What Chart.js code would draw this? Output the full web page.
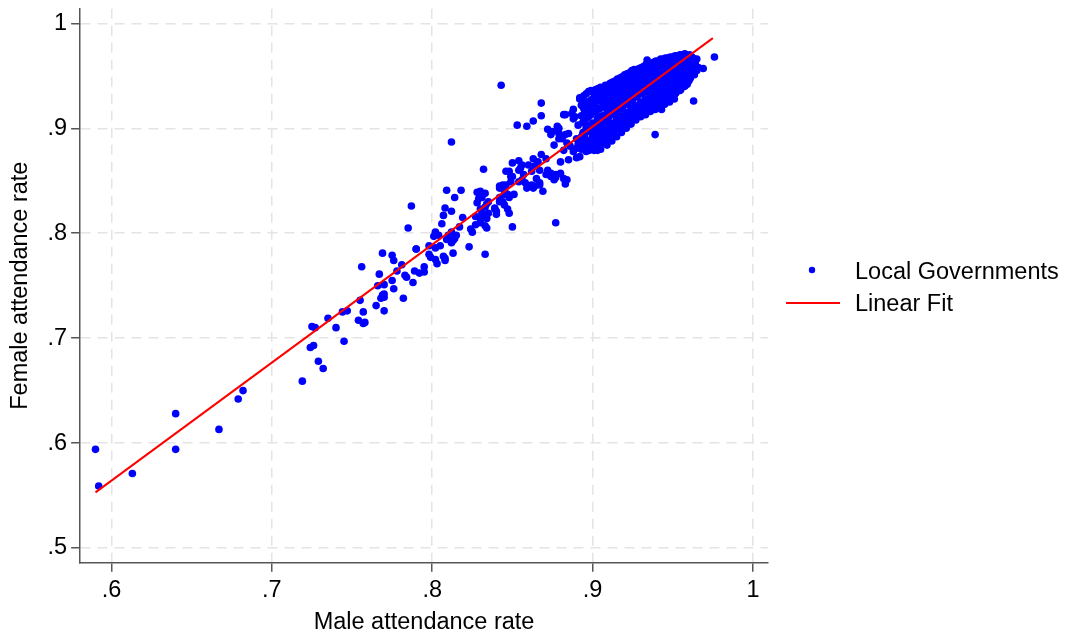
<!DOCTYPE html>
<html>
<head>
<meta charset="utf-8">
<script src="https://cdn.jsdelivr.net/npm/chart.js@4.4.1/dist/chart.umd.min.js"></script>
<style>
html,body{margin:0;padding:0;background:#fff}
#wrap{position:relative;width:1067px;height:634px}
</style>
</head>
<body>
<div id="wrap"><canvas id="chart" width="1067" height="634"></canvas></div>
<script>
const xTicks = [0.6, 0.7, 0.8, 0.9, 1]
const yTicks = [0.5, 0.6, 0.7, 0.8, 0.9, 1]
const seriesLabels = ['Local Governments', 'Linear Fit']

// fitted line at both ends
const fitMale = [0.590, 0.975]
const fitFemale = [0.553, 0.986]

// [male rate, female rate] per local government
const govRates = [
    [0.590,0.594],[0.592,0.559],[0.613,0.571],[0.640,0.628],[0.640,0.594],[0.667,0.613],[0.679,0.642],[0.682,0.650],
    [0.719,0.659],[0.729,0.678],[0.732,0.671],[0.724,0.691],[0.726,0.693],[0.745,0.697],[0.725,0.711],[0.727,0.710],
    [0.735,0.719],[0.740,0.710],[0.744,0.725],[0.747,0.726],[0.754,0.717],[0.757,0.714],[0.758,0.715],[0.757,0.725],
    [0.755,0.736],[0.756,0.768],[0.765,0.731],[0.770,0.726],[0.768,0.738],[0.770,0.739],[0.770,0.742],[0.769,0.741],
    [0.766,0.750],[0.770,0.751],[0.776,0.747],[0.782,0.738],[0.775,0.755],[0.767,0.761],[0.769,0.781],[0.775,0.779],
    [0.776,0.774],[0.778,0.764],[0.781,0.770],[0.783,0.760],[0.784,0.758],[0.788,0.753],[0.789,0.764],[0.792,0.762],
    [0.795,0.768],[0.790,0.785],[0.798,0.788],[0.798,0.780],[0.799,0.777],[0.802,0.775],[0.803,0.771],[0.807,0.778],
    [0.808,0.776],[0.813,0.781],[0.805,0.788],[0.812,0.791],
    [0.787,0.826],[0.785,0.805],[0.790,0.785],[0.795,0.763],[0.802,0.786],[0.808,0.774],[0.802,0.801],[0.801,0.797],
    [0.804,0.798],[0.806,0.809],[0.807,0.817],[0.808,0.824],[0.812,0.821],[0.809,0.841],[0.814,0.834],[0.818,0.841],
    [0.812,0.801],[0.810,0.798],[0.809,0.794],[0.813,0.793],[0.815,0.798],[0.814,0.795],[0.817,0.806],[0.819,0.815],
    [0.823,0.787],[0.824,0.804],[0.825,0.801],[0.827,0.808],[0.827,0.816],[0.828,0.839],[0.830,0.840],[0.829,0.833],
    [0.828,0.829],[0.832,0.861],[0.833,0.838],[0.830,0.823],[0.833,0.825],[0.834,0.828],[0.835,0.830],[0.831,0.819],
    [0.830,0.813],[0.834,0.814],[0.830,0.810],[0.833,0.807],[0.833,0.780],[0.840,0.821],[0.840,0.818],[0.839,0.823],
    [0.842,0.834],[0.844,0.830],[0.845,0.827],[0.842,0.843],[0.842,0.845],[0.844,0.846],[0.845,0.841],[0.846,0.846],
    [0.847,0.837],[0.848,0.834],[0.851,0.837],[0.847,0.823],[0.848,0.819],[0.850,0.806],[0.848,0.859],[0.850,0.854],
    [0.849,0.849],[0.850,0.867],[0.854,0.860],[0.856,0.865],[0.857,0.856],[0.856,0.851],[0.858,0.848],[0.862,0.846],
    [0.859,0.843],[0.864,0.845],[0.865,0.852],[0.867,0.848],[0.869,0.840],[0.871,0.856],[0.874,0.854],[0.876,0.851],
    [0.877,0.810],[0.862,0.859],[0.864,0.864],[0.867,0.860],
    [0.843,0.941],[0.868,0.924],[0.868,0.912],[0.863,0.907],[0.853,0.903],[0.859,0.902],[0.872,0.899],[0.874,0.894],
    [0.878,0.902],[0.879,0.895],[0.883,0.913],[0.887,0.914],[0.888,0.918],[0.892,0.928],[0.896,0.925],[0.893,0.922],
    [0.899,0.927],[0.881,0.890],[0.884,0.886],[0.886,0.883],[0.882,0.879],[0.888,0.878],[0.890,0.872],[0.891,0.885],
    [0.894,0.883],[0.898,0.879],[0.900,0.884],[0.903,0.879],[0.890,0.890],[0.894,0.894],[0.896,0.889],[0.900,0.892],
    [0.903,0.890],[0.906,0.897],
    [0.854,0.869],[0.855,0.862],[0.860,0.865],[0.863,0.871],[0.866,0.868],[0.868,0.875],[0.871,0.871],[0.872,0.860],
    [0.877,0.853],[0.880,0.857],[0.884,0.851],[0.867,0.846],[0.863,0.843],[0.854,0.849],[0.849,0.854],[0.846,0.859],
    [0.845,0.837],[0.842,0.830],[0.839,0.824],[0.835,0.819],[0.833,0.815],[0.834,0.805],[0.831,0.834],
    [0.882,0.913],[0.888,0.909],[0.896,0.903],[0.899,0.897],[0.894,0.887],[0.898,0.881],[0.903,0.887],[0.890,0.881],
    [0.892,0.873],[0.885,0.870],[0.879,0.890],[0.875,0.897],[0.876,0.884],[0.883,0.894],[0.889,0.911],[0.879,0.900],
    [0.885,0.895],[0.880,0.868],[0.883,0.847],[0.877,0.856],[0.882,0.852],[0.874,0.857],
    [0.976,0.968],[0.969,0.957],[0.963,0.926],[0.939,0.894],[0.934,0.965],[0.943,0.918],[0.947,0.932],[0.812,0.887],
    [0.912,0.942],[0.908,0.935],[0.904,0.931],[0.895,0.925],[0.897,0.914],[0.894,0.906],[0.896,0.900],[0.893,0.892],
    [0.892,0.929],[0.894,0.921],[0.893,0.912],[0.891,0.903],[0.894,0.896],[0.892,0.887],[0.893,0.880],
    [0.896,0.933],[0.897,0.925],[0.895,0.917],[0.896,0.909],[0.897,0.900],[0.895,0.893],[0.897,0.884],[0.896,0.878],
    [0.899,0.936],[0.900,0.928],[0.898,0.920],[0.899,0.913],[0.900,0.905],[0.898,0.897],[0.900,0.889],[0.899,0.881],
    [0.902,0.937],[0.903,0.930],[0.901,0.923],[0.902,0.916],[0.903,0.909],[0.901,0.901],[0.903,0.894],[0.902,0.886],[0.901,0.879],
    [0.905,0.939],[0.906,0.932],[0.904,0.926],[0.905,0.919],[0.906,0.912],[0.904,0.905],[0.905,0.898],[0.906,0.891],[0.904,0.884],[0.905,0.880],
    [0.908,0.941],[0.909,0.934],[0.907,0.928],[0.908,0.921],[0.909,0.915],[0.907,0.908],[0.909,0.901],[0.908,0.895],[0.907,0.889],[0.909,0.884],
    [0.911,0.943],[0.912,0.937],[0.910,0.930],[0.911,0.924],[0.912,0.918],[0.910,0.911],[0.912,0.905],[0.911,0.898],[0.910,0.893],[0.912,0.888],
    [0.914,0.945],[0.915,0.939],[0.913,0.933],[0.914,0.927],[0.915,0.921],[0.913,0.915],[0.915,0.908],[0.914,0.902],[0.913,0.897],[0.915,0.892],
    [0.917,0.948],[0.918,0.942],[0.916,0.936],[0.917,0.930],[0.918,0.924],[0.916,0.918],[0.918,0.912],[0.917,0.906],[0.916,0.901],[0.918,0.896],
    [0.920,0.951],[0.921,0.945],[0.919,0.939],[0.920,0.933],[0.921,0.927],[0.919,0.921],[0.921,0.915],[0.920,0.910],[0.919,0.905],[0.921,0.900],
    [0.923,0.953],[0.924,0.947],[0.922,0.942],[0.923,0.936],[0.924,0.930],[0.922,0.924],[0.924,0.919],[0.923,0.913],[0.922,0.908],[0.924,0.904],
    [0.926,0.956],[0.927,0.950],[0.925,0.944],[0.926,0.939],[0.927,0.933],[0.925,0.928],[0.927,0.922],[0.926,0.917],[0.925,0.912],[0.927,0.908],
    [0.929,0.957],[0.930,0.952],[0.928,0.947],[0.929,0.941],[0.930,0.936],[0.928,0.931],[0.930,0.925],[0.929,0.920],[0.928,0.915],[0.930,0.911],
    [0.932,0.959],[0.933,0.954],[0.931,0.949],[0.932,0.944],[0.933,0.938],[0.931,0.933],[0.933,0.928],[0.932,0.923],[0.931,0.918],[0.933,0.913],
    [0.935,0.961],[0.936,0.956],[0.934,0.951],[0.935,0.946],[0.936,0.941],[0.934,0.936],[0.936,0.931],[0.935,0.926],[0.934,0.921],[0.936,0.916],
    [0.938,0.963],[0.939,0.958],[0.937,0.953],[0.938,0.948],[0.939,0.943],[0.937,0.938],[0.939,0.933],[0.938,0.928],[0.937,0.923],[0.939,0.918],
    [0.941,0.964],[0.942,0.959],[0.940,0.955],[0.941,0.950],[0.942,0.945],[0.940,0.940],[0.942,0.935],[0.941,0.930],[0.940,0.925],[0.942,0.920],
    [0.944,0.966],[0.945,0.961],[0.943,0.956],[0.944,0.951],[0.945,0.947],[0.943,0.942],[0.945,0.937],[0.944,0.932],[0.943,0.927],[0.945,0.923],
    [0.947,0.967],[0.948,0.963],[0.946,0.958],[0.947,0.953],[0.948,0.949],[0.946,0.944],[0.948,0.939],[0.947,0.934],[0.946,0.929],[0.948,0.925],
    [0.950,0.968],[0.951,0.964],[0.949,0.959],[0.950,0.955],[0.951,0.950],[0.949,0.946],[0.951,0.941],[0.950,0.936],[0.949,0.932],[0.951,0.928],
    [0.953,0.969],[0.954,0.965],[0.952,0.961],[0.953,0.956],[0.954,0.952],[0.952,0.947],[0.954,0.943],[0.953,0.938],[0.952,0.934],
    [0.956,0.970],[0.957,0.966],[0.955,0.962],[0.956,0.958],[0.957,0.953],[0.955,0.949],[0.957,0.945],[0.956,0.941],[0.955,0.937],
    [0.959,0.969],[0.960,0.965],[0.958,0.961],[0.959,0.957],[0.960,0.953],[0.958,0.949],[0.960,0.945],[0.959,0.942],
    [0.962,0.968],[0.963,0.964],[0.961,0.960],[0.962,0.956],[0.963,0.952],[0.961,0.948],
    [0.965,0.966],[0.964,0.962],[0.966,0.958],[0.965,0.955],
    [0.8945,0.931],[0.8945,0.919],[0.8945,0.906],[0.8945,0.891],[0.8945,0.882],
    [0.8975,0.935],[0.8975,0.922],[0.8975,0.911],[0.8975,0.898],[0.8975,0.886],
    [0.9005,0.934],[0.9005,0.924],[0.9005,0.916],[0.9005,0.903],[0.9005,0.895],[0.9005,0.883],
    [0.9035,0.938],[0.9035,0.927],[0.9035,0.919],[0.9035,0.912],[0.9035,0.899],[0.9035,0.888],[0.9035,0.882],
    [0.9065,0.937],[0.9065,0.929],[0.9065,0.922],[0.9065,0.909],[0.9065,0.902],[0.9065,0.893],[0.9065,0.886],
    [0.9095,0.941],[0.9095,0.932],[0.9095,0.925],[0.9095,0.917],[0.9095,0.906],[0.9095,0.897],[0.9095,0.890],
    [0.9125,0.944],[0.9125,0.935],[0.9125,0.927],[0.9125,0.920],[0.9125,0.913],[0.9125,0.903],[0.9125,0.895],
    [0.9155,0.947],[0.9155,0.937],[0.9155,0.931],[0.9155,0.925],[0.9155,0.911],[0.9155,0.905],[0.9155,0.899],
    [0.9185,0.949],[0.9185,0.940],[0.9185,0.934],[0.9185,0.928],[0.9185,0.919],[0.9185,0.908],[0.9185,0.902],
    [0.9215,0.952],[0.9215,0.943],[0.9215,0.937],[0.9215,0.931],[0.9215,0.923],[0.9215,0.912],[0.9215,0.906],
    [0.9245,0.955],[0.9245,0.946],[0.9245,0.940],[0.9245,0.933],[0.9245,0.926],[0.9245,0.917],[0.9245,0.910],
    [0.9275,0.955],[0.9275,0.948],[0.9275,0.942],[0.9275,0.936],[0.9275,0.930],[0.9275,0.919],[0.9275,0.913],
    [0.9305,0.958],[0.9305,0.951],[0.9305,0.944],[0.9305,0.939],[0.9305,0.933],[0.9305,0.922],[0.9305,0.916],
    [0.9335,0.961],[0.9335,0.953],[0.9335,0.947],[0.9335,0.942],[0.9335,0.935],[0.9335,0.925],[0.9335,0.918],
    [0.9365,0.962],[0.9365,0.955],[0.9365,0.949],[0.9365,0.944],[0.9365,0.938],[0.9365,0.929],[0.9365,0.920],
    [0.9395,0.964],[0.9395,0.957],[0.9395,0.951],[0.9395,0.946],[0.9395,0.940],[0.9395,0.931],[0.9395,0.922],
    [0.9425,0.966],[0.9425,0.958],[0.9425,0.953],[0.9425,0.948],[0.9425,0.942],[0.9425,0.933],[0.9425,0.925],
    [0.9455,0.967],[0.9455,0.960],[0.9455,0.955],[0.9455,0.950],[0.9455,0.944],[0.9455,0.935],[0.9455,0.927],
    [0.9485,0.968],[0.9485,0.961],[0.9485,0.957],[0.9485,0.952],[0.9485,0.946],[0.9485,0.938],[0.9485,0.930],
    [0.9515,0.969],[0.9515,0.963],[0.9515,0.958],[0.9515,0.954],[0.9515,0.948],[0.9515,0.940],[0.9515,0.933],
    [0.9545,0.970],[0.9545,0.964],[0.9545,0.960],[0.9545,0.955],[0.9545,0.950],[0.9545,0.942],[0.9545,0.936],
    [0.9575,0.971],[0.9575,0.967],[0.9575,0.959],[0.9575,0.951],[0.9575,0.944],[0.9575,0.940],
    [0.9605,0.970],[0.9605,0.963],[0.9605,0.955],[0.9605,0.947],
    [0.9635,0.966],[0.9635,0.958],[0.9635,0.951]
]

const FONT = '"Liberation Sans", Arial, Helvetica, sans-serif'
Chart.defaults.font.family = FONT
Chart.defaults.font.size = 23.5
Chart.defaults.color = '#000'

function fmtTick(v){
    if(v === 1) return '1'
    return v.toFixed(1).replace(/^0/, '')
}

function axis(min, max, ticks, title, titlePad, tickPad, tickLine){
    return {
        type: 'linear',
        min,
        max,
        afterBuildTicks: s => { s.ticks = ticks.map(v => ({value: v})) },
        ticks: {callback: fmtTick, maxRotation: 0, autoSkip: false, padding: tickPad, font: {lineHeight: tickLine}},
        grid: {
            color: '#e4e4e4',
            lineWidth: 1.5,
            tickColor: '#555',
            tickLength: 9,
            tickWidth: 1.5,
            tickBorderDash: []
        },
        border: {color: '#555', width: 1.5, dash: [10, 7]},
        title: {display: true, text: title, padding: titlePad, font: {lineHeight: 1}}
    }
}

const sideLegend = {
    id: 'sideLegend',
    afterDraw(chart){
        const ctx = chart.ctx
        const area = chart.chartArea
        const pts = chart.data.datasets[0]
        const fit = chart.data.datasets[1]
        ctx.save()
        ctx.font = '23.5px ' + FONT
        ctx.textBaseline = 'alphabetic'
        ctx.beginPath()
        ctx.arc(area.right + 44, 270, 3.2, 0, Math.PI * 2)
        ctx.fillStyle = pts.backgroundColor
        ctx.fill()
        ctx.beginPath()
        ctx.moveTo(area.right + 18, 303)
        ctx.lineTo(area.right + 72, 303)
        ctx.strokeStyle = fit.borderColor
        ctx.lineWidth = 2
        ctx.stroke()
        ctx.fillStyle = '#000'
        ctx.fillText(pts.label, area.right + 87, 278.5)
        ctx.fillText(fit.label, area.right + 87, 311)
        ctx.restore()
    }
}

new Chart(document.getElementById('chart'), {
    type: 'scatter',
    data: {
        datasets: [
            {
                label: seriesLabels[0],
                data: govRates.map(p => ({x: p[0], y: p[1]})),
                backgroundColor: '#0000ff',
                borderWidth: 0,
                pointRadius: 3.8,
                order: 1
            },
            {
                label: seriesLabels[1],
                data: fitMale.map((m, i) => ({x: m, y: fitFemale[i]})),
                showLine: true,
                borderColor: '#ff0000',
                borderWidth: 2,
                pointRadius: 0,
                order: 0
            }
        ]
    },
    options: {
        responsive: false,
        animation: false,
        layout: {padding: {left: 0, top: 6, right: 299, bottom: 0}},
        plugins: {legend: {display: false}, tooltip: {enabled: false}},
        scales: {
            x: axis(0.5804, 1.0094, xTicks, 'Male attendance rate', {top: 1, bottom: 0}, 6, 1.1),
            y: axis(0.486, 1.014, yTicks, 'Female attendance rate', {top: 9, bottom: 11}, 4, 0.4)
        }
    },
    plugins: [sideLegend]
})
</script>
</body>
</html>
